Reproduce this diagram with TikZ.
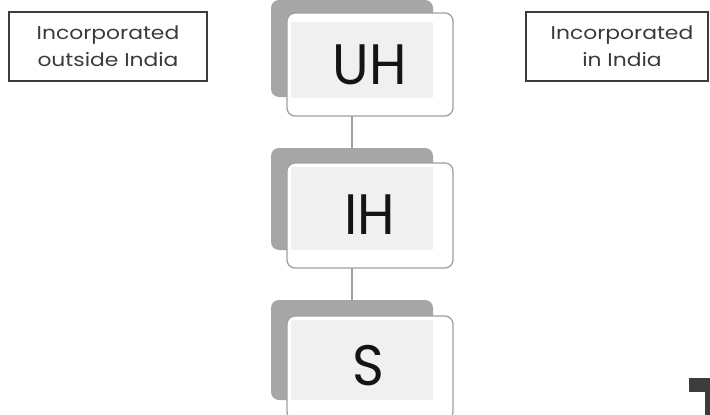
\documentclass[tikz,border=0pt]{standalone}
\usepackage{fontspec}
\setmainfont{Poppins}
\newfontfamily\bigfont[FakeStretch=0.95]{Poppins}
\newfontfamily\lblfont[FakeStretch=1.18]{Poppins}
\definecolor{backgray}{HTML}{A6A6A6}
\definecolor{frontline}{HTML}{A0A0A0}
\definecolor{innerfill}{HTML}{F0F0F0}
\definecolor{labeltext}{HTML}{3A3A3A}
\definecolor{darkbar}{HTML}{3C3C3C}
\begin{document}
\begin{tikzpicture}[x=1pt,y=-1pt,
  backbox/.style={fill=backgray, rounded corners=8pt},
  frontbox/.style={draw=frontline, line width=1.3pt, fill=white, rounded corners=8pt},
  innerbox/.style={fill=innerfill},
  labeltxt/.style={align=center, text=labeltext, font=\lblfont\fontsize{18.5}{27}\selectfont},
  bigtext/.style={font=\bigfont\fontsize{57}{57}\selectfont, text=black!92},
  link/.style={draw=frontline, line width=1.2pt}]
\useasboundingbox (0,0) rectangle (710,415);
\clip (0,0) rectangle (710,415);
% connectors (behind boxes)
\coordinate (c1) at (352,97);
\coordinate (c2) at (352,148);
\coordinate (c3) at (352,250);
\coordinate (c4) at (352,300);
\draw[link] (c1) -- (c2);
\draw[link] (c3) -- (c4);
% UH
\path[backbox] (271,0) rectangle (433,97);
\path[frontbox] (287,13) rectangle (453,116);
\path[innerbox] (291,22) rectangle (433,98);
\node[bigtext] (uh) at (370,65) {UH};
% IH
\path[backbox] (271,148) rectangle (433,250);
\path[frontbox] (287,163) rectangle (453,268);
\path[innerbox] (291,167) rectangle (433,250);
\node[bigtext] (ih) at (370,215) {IH};
% S
\path[backbox] (271,300) rectangle (433,400);
\path[frontbox] (287,316) rectangle (453,420);
\path[innerbox] (291,320) rectangle (433,400);
\node[bigtext] (s) at (368,366) {S};
% labels
\draw[darkbar, line width=1.2pt] (9,12) rectangle (207,81);
\node[labeltxt] (outside) at (108,46.5) {Incorporated\\outside India};
\draw[darkbar, line width=1.2pt] (526,12) rectangle (708,81);
\node[labeltxt] (inside) at (622,46.5) {Incorporated\\in India};
% partial shape at bottom right
\fill[darkbar] (689,378) rectangle (710,392);
\fill[darkbar] (705,392) rectangle (710,415);
\end{tikzpicture}
\end{document}
